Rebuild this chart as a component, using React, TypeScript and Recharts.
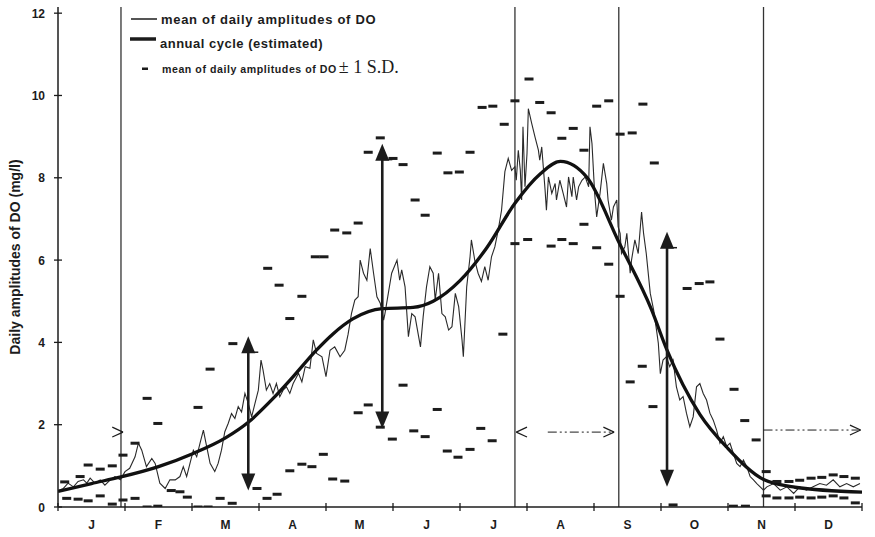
import { ComposedChart, Line, Scatter, XAxis, YAxis, ReferenceLine, ReferenceDot, Label } from "recharts";

// x position is in months from 1 January (0..12), y is mg/l
const monthLabels = ["J", "F", "M", "A", "M", "J", "J", "A", "S", "O", "N", "D"];
const monthTicks = [0, 1, 2, 3, 4, 5, 6, 7, 8, 9, 10, 11, 12];
const yTicks = [0, 2, 4, 6, 8, 10, 12];

// mean of daily amplitudes of DO
const meanMonth = [
  0, 0.08, 0.15, 0.23, 0.3, 0.38, 0.43, 0.48, 0.55, 0.63, 0.7, 0.78, 0.85, 0.93, 1.0, 1.07, 1.15, 1.2, 1.25, 1.32,
  1.4, 1.45, 1.52, 1.6, 1.67, 1.75, 1.82, 1.87, 1.92, 1.97, 2.02, 2.07, 2.12, 2.17, 2.22, 2.27, 2.34, 2.39, 2.44, 2.49,
  2.54, 2.59, 2.64, 2.69, 2.74, 2.79, 2.84, 2.89, 2.94, 2.99, 3.03, 3.06, 3.11, 3.16, 3.21, 3.26, 3.31, 3.36, 3.41, 3.46,
  3.51, 3.59, 3.64, 3.69, 3.76, 3.81, 3.86, 3.94, 4.0, 4.06, 4.13, 4.21, 4.28, 4.33, 4.38, 4.43, 4.48, 4.51, 4.56, 4.61,
  4.66, 4.71, 4.76, 4.81, 4.86, 4.88, 4.93, 4.98, 5.06, 5.1, 5.13, 5.18, 5.23, 5.28, 5.33, 5.41, 5.45, 5.5, 5.55, 5.6,
  5.63, 5.68, 5.73, 5.78, 5.83, 5.88, 5.93, 5.98, 6.03, 6.05, 6.1, 6.15, 6.17, 6.22, 6.27, 6.32, 6.37, 6.42, 6.47, 6.52,
  6.57, 6.62, 6.67, 6.72, 6.77, 6.82, 6.84, 6.87, 6.9, 6.92, 6.94, 6.97, 7.0, 7.02, 7.07, 7.12, 7.17, 7.19, 7.22, 7.27,
  7.29, 7.32, 7.37, 7.42, 7.44, 7.49, 7.54, 7.59, 7.62, 7.67, 7.69, 7.74, 7.77, 7.82, 7.87, 7.92, 7.94, 7.97, 8.01, 8.04,
  8.09, 8.14, 8.19, 8.21, 8.26, 8.29, 8.34, 8.36, 8.39, 8.41, 8.46, 8.49, 8.54, 8.56, 8.61, 8.66, 8.71, 8.74, 8.78, 8.84,
  8.89, 8.94, 8.96, 8.99, 9.03, 9.08, 9.13, 9.18, 9.23, 9.28, 9.33, 9.38, 9.43, 9.48, 9.53, 9.58, 9.63, 9.68, 9.73, 9.78,
  9.83, 9.88, 9.93, 9.98, 10.03, 10.08, 10.13, 10.18, 10.23, 10.28, 10.33, 10.38, 10.43, 10.48, 10.53, 10.58, 10.68,
  10.78, 10.88, 10.98, 11.07, 11.17, 11.27, 11.37, 11.47, 11.57, 11.67, 11.77, 11.87, 11.97,
];
const meanValue = [
  0.4, 0.45, 0.58, 0.49, 0.62, 0.66, 0.58, 0.7, 0.58, 0.66, 0.53, 0.66, 0.74, 0.66, 0.86, 0.94, 1.22, 1.55, 1.38, 0.98,
  1.18, 1.06, 0.58, 0.45, 0.66, 0.66, 0.74, 0.98, 0.74, 1.06, 1.38, 1.22, 1.55, 1.87, 1.46, 1.06, 0.86, 1.06, 1.38, 1.83,
  2.03, 2.27, 2.15, 2.44, 2.31, 2.76, 2.52, 2.19, 2.52, 2.84, 3.57, 3.33, 2.84, 3.0, 2.76, 3.0, 2.68, 2.84, 2.92, 2.76,
  3.0, 3.25, 3.04, 3.41, 3.37, 4.06, 3.73, 3.65, 3.17, 3.81, 3.89, 3.65, 3.81, 4.2, 4.7, 5.03, 5.11, 6.0, 5.68, 5.51,
  6.28, 5.68, 5.11, 4.95, 4.54, 4.7, 5.19, 5.68, 6.0, 5.51, 5.76, 5.35, 4.14, 4.7, 4.62, 3.89, 4.62, 5.35, 5.84, 5.68,
  5.03, 5.68, 4.7, 4.62, 4.3, 4.38, 5.19, 4.87, 4.06, 3.65, 5.35, 6.08, 6.49, 6.0, 5.68, 5.48, 5.84, 5.51, 6.08, 6.32,
  6.73, 7.21, 8.15, 8.47, 8.18, 8.27, 7.94, 8.67, 8.19, 7.46, 9.24, 7.78, 8.59, 9.68, 9.32, 8.99, 8.67, 8.43, 8.75, 7.7,
  7.21, 8.02, 7.62, 7.86, 7.46, 7.94, 7.62, 7.29, 8.02, 7.54, 8.02, 7.46, 7.78, 7.94, 8.02, 7.78, 9.24, 8.83, 7.62, 7.05,
  7.62, 8.35, 7.86, 7.46, 6.97, 7.29, 7.46, 6.81, 6.65, 6.16, 6.32, 6.65, 5.68, 6.0, 6.49, 6.16, 7.17, 6.65, 6.16, 5.19,
  4.79, 4.22, 3.98, 3.24, 3.57, 3.65, 3.41, 3.57, 2.92, 2.6, 2.68, 2.28, 1.95, 2.19, 2.92, 3.0, 2.76, 2.6, 2.28, 2.11,
  1.87, 1.55, 1.71, 1.47, 1.55, 1.3, 1.06, 0.98, 1.14, 0.98, 0.74, 0.66, 0.57, 0.49, 0.41, 0.49, 0.57,
  0.41, 0.49, 0.33, 0.49, 0.41, 0.49, 0.57, 0.53, 0.66, 0.49, 0.57, 0.49, 0.57,
];

// annual cycle (estimated)
const cycleMonth = [0, 0.5, 0.94, 1.5, 2.0, 2.5, 2.84, 3.2, 3.5, 3.85, 4.1, 4.4, 4.84, 5.3, 5.6, 6.0, 6.4, 6.82, 7.2, 7.5, 7.9, 8.37, 8.86, 9.09, 9.58, 10.0, 10.54, 11.0, 12.0];
const cycleValue = [0.38, 0.57, 0.73, 0.98, 1.29, 1.68, 2.06, 2.62, 3.15, 3.8, 4.2, 4.57, 4.82, 4.85, 5.0, 5.5, 6.3, 7.38, 8.1, 8.4, 8.0, 6.44, 4.79, 3.81, 2.25, 1.42, 0.66, 0.48, 0.36];

// mean + 1 S.D.
const upperMonth = [
  0.1, 0.33, 0.45, 0.63, 0.81, 0.97, 1.15, 1.33, 1.49, 2.09, 2.27, 2.61, 3.13, 3.3, 3.46, 3.64, 3.84, 3.97, 4.13, 4.31,
  4.48, 4.63, 4.81, 5.0, 5.15, 5.33, 5.48, 5.66, 5.82, 5.99, 6.15, 6.33, 6.49, 6.66, 6.82, 7.03, 7.19, 7.36, 7.52, 7.69,
  7.85, 8.04, 8.22, 8.39, 8.57, 8.73, 8.9, 9.39, 9.57, 9.73, 9.88, 10.09, 10.25, 10.42, 10.57, 10.73, 10.91, 11.07, 11.24,
  11.4, 11.57, 11.73, 11.9,
];
const upperValue = [
  0.61, 0.74, 1.02, 0.92, 1.0, 1.26, 1.55, 2.64, 2.03, 2.42, 3.35, 3.97, 5.8, 5.39, 4.58, 5.12, 6.08, 6.08, 6.73, 6.66,
  6.9, 8.62, 8.97, 8.47, 8.32, 7.46, 7.09, 8.6, 8.12, 8.14, 8.62, 9.71, 9.74, 9.3, 9.87, 10.4, 9.83, 9.58, 8.96, 9.2,
  8.67, 9.74, 9.87, 9.06, 9.09, 9.79, 8.36, 5.31, 5.43, 5.47, 4.08, 2.86, 2.1, 1.63, 0.86, 0.62, 0.62, 0.65, 0.7,
  0.72, 0.78, 0.74, 0.7,
];

// mean - 1 S.D.
const lowerMonth = [
  0.13, 0.3, 0.45, 0.63, 0.81, 0.97, 1.15, 1.33, 1.49, 1.69, 1.82, 1.93, 2.09, 2.24, 2.42, 2.6, 2.97, 3.12, 3.27, 3.46,
  3.64, 3.79, 3.96, 4.1, 4.28, 4.48, 4.63, 4.81, 4.99, 5.15, 5.31, 5.48, 5.66, 5.81, 5.97, 6.15, 6.31, 6.48, 6.64, 6.82,
  7.01, 7.36, 7.52, 7.69, 7.85, 8.04, 8.22, 8.39, 8.54, 8.72, 8.88, 9.18, 10.08, 10.26, 10.57, 10.73, 10.91, 11.07, 11.24,
  11.4, 11.57, 11.73, 11.9,
];
const lowerValue = [
  0.21, 0.19, 0.15, 0.27, 0.07, 0.17, 0.21, 0.0, 0.02, 0.4, 0.37, 0.24, 0.0, 0.0, 0.21, 0.09, 0.45, 0.21, 0.31, 0.88,
  1.04, 0.98, 1.28, 0.68, 0.63, 2.29, 2.48, 1.94, 1.65, 2.96, 1.85, 1.71, 2.37, 1.36, 1.21, 1.4, 1.91, 1.61, 4.2, 6.4,
  6.5, 6.34, 6.5, 6.4, 6.87, 6.3, 5.9, 5.12, 3.04, 3.42, 2.44, 0.05, 0.02, 0.02, 0.27, 0.22, 0.22, 0.24, 0.22,
  0.24, 0.27, 0.22, 0.1,
];

// double arrows showing +/- 1 S.D.
const arrowMonth = [2.84, 4.84, 9.09];
const arrowLow = [0.4, 1.91, 0.49];
const arrowHigh = [4.15, 8.83, 6.69];

const meanData = meanMonth.map((m, i) => ({ m, v: meanValue[i] }));
const cycleData = cycleMonth.map((m, i) => ({ m, v: cycleValue[i] }));
const upperData = upperMonth.map((m, i) => ({ m, v: upperValue[i] }));
const lowerData = lowerMonth.map((m, i) => ({ m, v: lowerValue[i] }));

const ink = "#1c1c1c";
const font = "'Liberation Sans', Arial, sans-serif";

const XTick = (props: any) => {
  const { x, y, payload } = props;
  const i = payload.value;
  return (
    <g>
      <line x1={x} x2={x} y1={y - 4} y2={y + 4} stroke={ink} strokeWidth={1.3} />
      {i < 12 && (
        <text x={x + 33.5} y={y + 22} textAnchor="middle" fontSize={12} fontWeight="bold" fontFamily={font} fill={ink}>
          {monthLabels[i]}
        </text>
      )}
    </g>
  );
};

const YTick = (props: any) => {
  const { x, y, payload } = props;
  return (
    <g>
      <line x1={x - 4} x2={x + 4} y1={y} y2={y} stroke={ink} strokeWidth={1.3} />
      <text x={x - 13} y={y + 4.5} textAnchor="end" fontSize={12} fontWeight="bold" fontFamily={font} fill={ink}>
        {payload.value}
      </text>
    </g>
  );
};

const DashMark = (props: any) => <rect x={props.cx - 4.5} y={props.cy - 1.5} width={9} height={3} fill={ink} />;

const UpHead = (props: any) => (
  <g>
    <polygon points={`${props.cx},${props.cy} ${props.cx - 7},${props.cy + 17} ${props.cx + 7},${props.cy + 17}`} fill={ink} />
    <line x1={props.cx} x2={props.cx + 10} y1={props.cy + 16} y2={props.cy + 16} stroke={ink} strokeWidth={1.5} />
  </g>
);
const DownHead = (props: any) => (
  <polygon points={`${props.cx},${props.cy} ${props.cx - 7},${props.cy - 17} ${props.cx + 7},${props.cy - 17}`} fill={ink} />
);

const dashDot = "9 3 2 3 2 3";

const chevron = (tipM: number, y: number, dir: number, key: string) => [
  <ReferenceLine key={key + "a"} segment={[{ x: tipM - dir * 0.16, y: y + 0.12 }, { x: tipM, y }]} stroke={ink} strokeWidth={1.2} ifOverflow="visible" />,
  <ReferenceLine key={key + "b"} segment={[{ x: tipM - dir * 0.16, y: y - 0.12 }, { x: tipM, y }]} stroke={ink} strokeWidth={1.2} ifOverflow="visible" />,
];

export default function App() {
  return (
    <div style={{ position: "absolute", left: 0, top: 0, width: 875, height: 537, background: "#fff" }}>
      <ComposedChart width={875} height={537} margin={{ top: 7, right: 13, bottom: 0, left: 0 }}>
        <XAxis
          dataKey="m"
          type="number"
          domain={[0, 12]}
          ticks={monthTicks}
          interval={0}
          height={30}
          tickSize={0}
          tickMargin={0}
          tickLine={false}
          tick={<XTick />}
          axisLine={{ stroke: ink, strokeWidth: 1.5 }}
          allowDataOverflow
        />
        <YAxis
          dataKey="v"
          type="number"
          domain={[0, 12.15]}
          ticks={yTicks}
          interval={0}
          width={58}
          tickSize={0}
          tickMargin={0}
          tickLine={false}
          tick={<YTick />}
          axisLine={{ stroke: ink, strokeWidth: 1.5 }}
          allowDataOverflow
        >
          <Label
            value="Daily amplitudes of DO  (mg/l)"
            angle={-90}
            position="center"
            dx={-14}
            style={{ fontSize: 14, fontWeight: "bold", fontFamily: font, fill: ink, textAnchor: "middle" }}
          />
        </YAxis>

        {[0.94, 6.82, 8.37, 10.53].map((m) => (
          <ReferenceLine key={"v" + m} x={m} stroke="#333" strokeWidth={1.3} />
        ))}

        {/* season spans */}
        {chevron(0.97, 1.82, 1, "c1")}
        {chevron(6.84, 1.82, -1, "c2")}
        <ReferenceLine segment={[{ x: 7.31, y: 1.82 }, { x: 8.28, y: 1.82 }]} stroke={ink} strokeWidth={1} strokeDasharray={dashDot} />
        {chevron(8.3, 1.82, 1, "c3")}
        <ReferenceLine segment={[{ x: 10.53, y: 1.87 }, { x: 11.95, y: 1.87 }]} stroke={ink} strokeWidth={1} strokeDasharray={dashDot} />
        {chevron(11.98, 1.87, 1, "c4")}

        <Line data={meanData} dataKey="v" type="linear" stroke="#2a2a2a" strokeWidth={1.1} dot={false} isAnimationActive={false} />
        <Line data={cycleData} dataKey="v" type="monotone" stroke="#111" strokeWidth={3.3} dot={false} isAnimationActive={false} />
        <Scatter data={upperData} dataKey="v" shape={DashMark} isAnimationActive={false} />
        <Scatter data={lowerData} dataKey="v" shape={DashMark} isAnimationActive={false} />

        {arrowMonth.map((m, i) => (
          <ReferenceLine
            key={"s" + i}
            segment={[{ x: m, y: arrowLow[i] + 0.2 }, { x: m, y: arrowHigh[i] - 0.2 }]}
            stroke={ink}
            strokeWidth={2.6}
          />
        ))}
        {arrowMonth.map((m, i) => (
          <ReferenceDot key={"u" + i} x={m} y={arrowHigh[i]} r={0} shape={UpHead} />
        ))}
        {arrowMonth.map((m, i) => (
          <ReferenceDot key={"d" + i} x={m} y={arrowLow[i]} r={0} shape={DownHead} />
        ))}
      </ComposedChart>

      <svg width={340} height={80} style={{ position: "absolute", left: 125, top: 5 }}>
        <line x1={6} x2={32} y1={14} y2={14} stroke={ink} strokeWidth={1.5} />
        <text x={36} y={18.5} fontSize={13} fontWeight="bold" fontFamily={font} letterSpacing={0.7} fill={ink}>
          mean of daily amplitudes of DO
        </text>
        <line x1={5} x2={31} y1={34} y2={34} stroke={ink} strokeWidth={3.5} />
        <text x={35} y={42.5} fontSize={13} fontWeight="bold" fontFamily={font} letterSpacing={0.5} fill={ink}>
          annual cycle (estimated)
        </text>
        <rect x={17} y={62.5} width={6} height={2.5} fill={ink} />
        <text x={37} y={68} fontSize={10.6} fontWeight="bold" fontFamily={font} letterSpacing={0.55} fill={ink}>
          mean of daily amplitudes of DO
          <tspan fontSize={18} fontWeight="normal" fontFamily="'Liberation Serif', 'Times New Roman', serif" letterSpacing={0} dx={2}>
            ± 1 S.D.
          </tspan>
        </text>
      </svg>
    </div>
  );
}
